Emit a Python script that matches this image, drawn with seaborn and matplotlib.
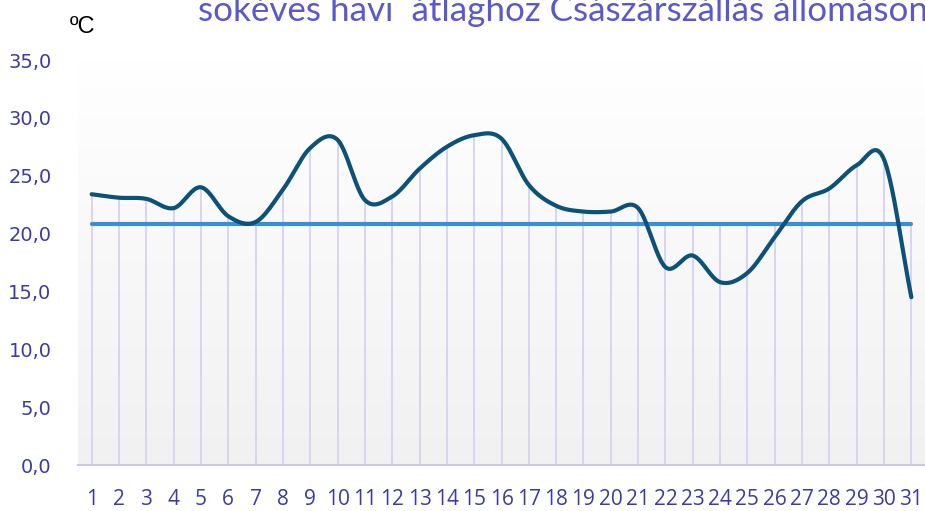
import numpy as np
import pandas as pd
import seaborn as sns
import matplotlib.pyplot as plt
from matplotlib.colors import LinearSegmentedColormap

# --- data ---
days = list(range(1, 32))
daily_mean = [23.4, 23.1, 23.0, 22.2, 24.0, 21.5, 21.0, 23.8, 27.4, 28.1,
              22.9, 23.2, 25.6, 27.5, 28.5, 28.2, 24.2, 22.4, 21.9, 21.9,
              22.2, 17.1, 18.1, 15.8, 16.6, 19.7, 22.8, 23.9, 25.9, 26.4,
              14.5]
longterm_avg = 20.8
y_ticks = [0, 5, 10, 15, 20, 25, 30, 35]

title = "sokéves havi  átlaghoz Császárszállás állomáson"
unit = "ºC"

label_col = "#3d3aa6"

sns.set_theme(style="white")
plt.rcParams["font.family"] = ["DejaVu Sans"]

fig = plt.figure(figsize=(9.25, 5.11), dpi=100)
ax = fig.add_axes([78 / 925, 1 - 465 / 511, 1 - 78 / 925, (465 - 60) / 511])

# gradient plot area (white -> light grey)
grad = LinearSegmentedColormap.from_list("bg", ["#f1f1f1", "#ffffff"])
ax.imshow(np.linspace(0, 1, 256).reshape(-1, 1), cmap=grad, aspect="auto",
          extent=[0, 1, 0, 1], transform=ax.transAxes, origin="lower", zorder=0)

# drop lines, from the higher series down to the axis
tops = np.maximum(daily_mean, longterm_avg)
ax.vlines(days, 0, tops, color="#d6d2f0", lw=1.3, zorder=1)

# Excel-style smoothed line (cardinal spline through the daily values)
x = np.array(days, dtype=float)
y = np.array(daily_mean)
m = np.gradient(y)
t = np.linspace(0, 1, 25)
xs, ys = [], []
for i in range(len(x) - 1):
    h00 = 2 * t**3 - 3 * t**2 + 1
    h10 = t**3 - 2 * t**2 + t
    h01 = -2 * t**3 + 3 * t**2
    h11 = t**3 - t**2
    xs.extend(x[i] + t)
    ys.extend(h00 * y[i] + h10 * m[i] + h01 * y[i + 1] + h11 * m[i + 1])
curve = pd.DataFrame({"day": xs, "temp": ys})

avg_df = pd.DataFrame({"day": [days[0], days[-1]], "temp": [longterm_avg] * 2})
sns.lineplot(data=avg_df, x="day", y="temp", ax=ax, color="#3a8fd0", lw=3,
             solid_capstyle="round", zorder=3)
sns.lineplot(data=curve, x="day", y="temp", ax=ax, color="#0c5178", lw=3,
             sort=False, estimator=None, solid_capstyle="round", zorder=4)

ax.set_xlim(0.5, 31.5)
ax.set_ylim(0, 35)
ax.set_xlabel("")
ax.set_ylabel("")
ax.set_xticks(days)
ax.set_xticklabels([str(d) for d in days], family=["Open Sans", "DejaVu Sans"],
                   fontsize=15, color=label_col)
ax.set_yticks(y_ticks)
ax.set_yticklabels([f"{v:.1f}".replace(".", ",") for v in y_ticks],
                   fontsize=14, color=label_col)
ax.tick_params(axis="x", length=0, pad=17)
ax.tick_params(axis="y", length=0, pad=19)
ax.grid(False)
for s in ["top", "right", "left"]:
    ax.spines[s].set_visible(False)
ax.spines["bottom"].set_color("#cbc7ea")
ax.spines["bottom"].set_linewidth(1.5)

# title is the second line of a longer heading, cut at the top as in the source
fig.text(198 / 925, 1 - 21 / 511, title, family=["Lato", "DejaVu Sans"],
         fontsize=25.2, color="#5b57cc", va="baseline", ha="left")
fig.text(70 / 925, 1 - 33 / 511, unit, family=["Liberation Sans", "DejaVu Sans"],
         fontsize=17, color="black", va="baseline", ha="left")

fig.savefig("out.png", dpi=100)
